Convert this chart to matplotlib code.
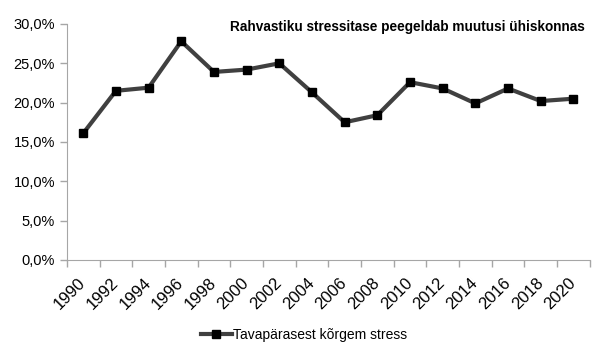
import matplotlib
matplotlib.use("Agg")
from matplotlib import pyplot as plt
import numpy as np

years = ["1990", "1992", "1994", "1996", "1998", "2000", "2002", "2004",
         "2006", "2008", "2010", "2012", "2014", "2016", "2018", "2020"]
stress = [16.1, 21.5, 21.9, 27.8, 23.9, 24.2, 25.0, 21.3,
          17.5, 18.4, 22.6, 21.8, 19.9, 21.8, 20.2, 20.5]
yticks = [0, 5, 10, 15, 20, 25, 30]

title = "Rahvastiku stressitase peegeldab muutusi ühiskonnas"
series_name = "Tavapärasest kõrgem stress"

plt.rcParams['font.family'] = ['Liberation Sans', 'DejaVu Sans']

fig = plt.figure(figsize=(6.08, 3.58), dpi=100)
ax = fig.add_axes([0.110, 0.274, 0.860, 0.659])

x = np.arange(len(years))
ax.plot(x, stress, color="#404040", linewidth=3, marker="s", markersize=6,
        markerfacecolor="black", markeredgecolor="black", label=series_name)

ax.set_xlim(-0.5, len(years) - 0.5)
ax.set_ylim(0, 30)
ax.set_yticks(yticks)
ax.set_yticklabels([("%.1f%%" % v).replace(".", ",") for v in yticks], fontsize=10.5)

ax.set_xticks(x)
ax.set_xticklabels(years, rotation=45, ha="right", va="center",
                   rotation_mode="anchor", fontsize=12)
ax.tick_params(axis="x", which="major", length=0, pad=15)
ax.set_xticks(np.arange(-0.5, len(years), 1), minor=True)
ax.tick_params(axis="x", which="minor", length=5, color="#A6A6A6", width=1)
ax.tick_params(axis="y", length=5, color="#A6A6A6", width=1)

for s in ["top", "right"]:
    ax.spines[s].set_visible(False)
for s in ["left", "bottom"]:
    ax.spines[s].set_color("#A6A6A6")

ax.text(0.99, 0.987, title, transform=ax.transAxes, ha="right", va="center",
        fontsize=9.8, fontweight="bold")

fig.legend(loc="center", bbox_to_anchor=(0.5, 0.064), frameon=False,
           fontsize=10, handlelength=2.2, handletextpad=0.1)

fig.savefig("out.png", dpi=100)
